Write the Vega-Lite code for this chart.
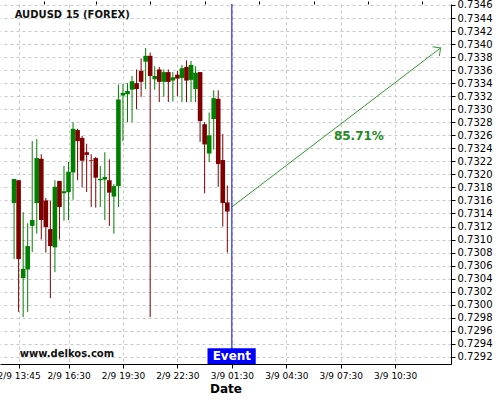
{
  "$schema": "https://vega.github.io/schema/vega-lite/v6.json",
  "width": 451,
  "height": 360,
  "autosize": {"type": "none"},
  "padding": {"left": 0, "top": 4, "right": 49, "bottom": 36},
  "config": {
    "font": "DejaVu Sans",
    "view": {"stroke": null},
    "axis": {"labelFont": "DejaVu Sans", "titleFont": "DejaVu Sans"}
  },
  "resolve": {"axis": {"x": "independent"}},
  "datasets": {
    "candles": [
      {"t":"2020-09-02T13:30:00","o":0.73156,"h":0.73193,"l":0.73070,"c":0.73193},
      {"t":"2020-09-02T13:45:00","o":0.73191,"h":0.73191,"l":0.72989,"c":0.73070},
      {"t":"2020-09-02T14:00:00","o":0.73041,"h":0.73142,"l":0.72981,"c":0.73055},
      {"t":"2020-09-02T14:15:00","o":0.73054,"h":0.73125,"l":0.72989,"c":0.73090},
      {"t":"2020-09-02T14:30:00","o":0.73121,"h":0.73251,"l":0.73081,"c":0.73130},
      {"t":"2020-09-02T14:45:00","o":0.73156,"h":0.73254,"l":0.73109,"c":0.73225},
      {"t":"2020-09-02T15:00:00","o":0.73224,"h":0.73231,"l":0.73100,"c":0.73130},
      {"t":"2020-09-02T15:15:00","o":0.73160,"h":0.73164,"l":0.73080,"c":0.73119},
      {"t":"2020-09-02T15:30:00","o":0.73116,"h":0.73160,"l":0.73010,"c":0.73090},
      {"t":"2020-09-02T15:45:00","o":0.73088,"h":0.73191,"l":0.73050,"c":0.73181},
      {"t":"2020-09-02T16:00:00","o":0.73190,"h":0.73190,"l":0.73100,"c":0.73150},
      {"t":"2020-09-02T16:15:00","o":0.73171,"h":0.73213,"l":0.73129,"c":0.73174},
      {"t":"2020-09-02T16:30:00","o":0.73173,"h":0.73219,"l":0.73130,"c":0.73204},
      {"t":"2020-09-02T16:45:00","o":0.73203,"h":0.73280,"l":0.73161,"c":0.73270},
      {"t":"2020-09-02T17:00:00","o":0.73268,"h":0.73270,"l":0.73191,"c":0.73251},
      {"t":"2020-09-02T17:15:00","o":0.73256,"h":0.73259,"l":0.73180,"c":0.73221},
      {"t":"2020-09-02T17:30:00","o":0.73234,"h":0.73247,"l":0.73173,"c":0.73230},
      {"t":"2020-09-02T17:45:00","o":0.73222,"h":0.73231,"l":0.73150,"c":0.73221},
      {"t":"2020-09-02T18:00:00","o":0.73225,"h":0.73227,"l":0.73149,"c":0.73195},
      {"t":"2020-09-02T18:15:00","o":0.73191,"h":0.73213,"l":0.73150,"c":0.73193},
      {"t":"2020-09-02T18:30:00","o":0.73192,"h":0.73234,"l":0.73130,"c":0.73196},
      {"t":"2020-09-02T18:45:00","o":0.73191,"h":0.73223,"l":0.73121,"c":0.73172},
      {"t":"2020-09-02T19:00:00","o":0.73166,"h":0.73185,"l":0.73109,"c":0.73182},
      {"t":"2020-09-02T19:15:00","o":0.73182,"h":0.73338,"l":0.73150,"c":0.73315},
      {"t":"2020-09-02T19:30:00","o":0.73321,"h":0.73339,"l":0.73251,"c":0.73325},
      {"t":"2020-09-02T19:45:00","o":0.73323,"h":0.73340,"l":0.73280,"c":0.73328},
      {"t":"2020-09-02T20:00:00","o":0.73330,"h":0.73351,"l":0.73280,"c":0.73343},
      {"t":"2020-09-02T20:15:00","o":0.73340,"h":0.73361,"l":0.73300,"c":0.73331},
      {"t":"2020-09-02T20:30:00","o":0.73359,"h":0.73378,"l":0.73319,"c":0.73342},
      {"t":"2020-09-02T20:45:00","o":0.73373,"h":0.73394,"l":0.73331,"c":0.73382},
      {"t":"2020-09-02T21:00:00","o":0.73382,"h":0.73387,"l":0.72981,"c":0.73351},
      {"t":"2020-09-02T21:15:00","o":0.73346,"h":0.73366,"l":0.73330,"c":0.73351},
      {"t":"2020-09-02T21:30:00","o":0.73361,"h":0.73365,"l":0.73311,"c":0.73342},
      {"t":"2020-09-02T21:45:00","o":0.73342,"h":0.73361,"l":0.73319,"c":0.73357},
      {"t":"2020-09-02T22:00:00","o":0.73357,"h":0.73361,"l":0.73311,"c":0.73342},
      {"t":"2020-09-02T22:15:00","o":0.73344,"h":0.73357,"l":0.73312,"c":0.73349},
      {"t":"2020-09-02T22:30:00","o":0.73353,"h":0.73359,"l":0.73320,"c":0.73347},
      {"t":"2020-09-02T22:45:00","o":0.73348,"h":0.73368,"l":0.73311,"c":0.73363},
      {"t":"2020-09-02T23:00:00","o":0.73365,"h":0.73375,"l":0.73311,"c":0.73344},
      {"t":"2020-09-02T23:15:00","o":0.73345,"h":0.73374,"l":0.73311,"c":0.73368},
      {"t":"2020-09-02T23:30:00","o":0.73331,"h":0.73366,"l":0.73311,"c":0.73356},
      {"t":"2020-09-02T23:45:00","o":0.73357,"h":0.73357,"l":0.73250,"c":0.73282},
      {"t":"2020-09-03T00:00:00","o":0.73277,"h":0.73280,"l":0.73171,"c":0.73246},
      {"t":"2020-09-03T00:15:00","o":0.73232,"h":0.73295,"l":0.73219,"c":0.73260},
      {"t":"2020-09-03T00:30:00","o":0.73285,"h":0.73329,"l":0.73238,"c":0.73317},
      {"t":"2020-09-03T00:45:00","o":0.73316,"h":0.73329,"l":0.73181,"c":0.73216},
      {"t":"2020-09-03T01:00:00","o":0.73222,"h":0.73262,"l":0.73120,"c":0.73156},
      {"t":"2020-09-03T01:15:00","o":0.73157,"h":0.73183,"l":0.73080,"c":0.73143}
    ]
  },
  "layer": [
    {
      "data": {"name": "candles"},
      "mark": {"type": "rule", "strokeWidth": 1},
      "encoding": {
        "x": {
          "field": "t", "type": "temporal", "title": "Date",
          "scale": {"domain": [
            {"year": 2020, "month": 9, "date": 2, "hours": 13, "minutes": 0},
            {"year": 2020, "month": 9, "date": 3, "hours": 13, "minutes": 18}
          ]},
          "axis": {
            "values": [
              {"year": 2020, "month": 9, "date": 2, "hours": 13, "minutes": 45},
              {"year": 2020, "month": 9, "date": 2, "hours": 16, "minutes": 30},
              {"year": 2020, "month": 9, "date": 2, "hours": 19, "minutes": 30},
              {"year": 2020, "month": 9, "date": 2, "hours": 22, "minutes": 30},
              {"year": 2020, "month": 9, "date": 3, "hours": 1, "minutes": 30},
              {"year": 2020, "month": 9, "date": 3, "hours": 4, "minutes": 30},
              {"year": 2020, "month": 9, "date": 3, "hours": 7, "minutes": 30},
              {"year": 2020, "month": 9, "date": 3, "hours": 10, "minutes": 30}
            ],
            "tickCount": 20,
            "format": "%-d/%-m %H:%M",
            "labelFontSize": 9, "labelColor": "#000", "labelPadding": 3,
            "labelFlush": false, "labelOverlap": false, "labelBound": false,
            "tickSize": 4, "tickColor": "#000", "domainColor": "#000",
            "grid": true, "gridColor": "#c8c8c8", "gridDash": [3, 3],
            "titleFontSize": 12, "titleFontWeight": "bold", "titleColor": "#000", "titlePadding": 3
          }
        },
        "y": {
          "field": "l", "type": "quantitative", "title": null,
          "scale": {"domain": [0.72909, 0.734615], "zero": false, "nice": false},
          "axis": {
            "orient": "right",
            "values": [0.7292,0.7294,0.7296,0.7298,0.73,0.7302,0.7304,0.7306,0.7308,0.731,0.7312,0.7314,0.7316,0.7318,0.732,0.7322,0.7324,0.7326,0.7328,0.733,0.7332,0.7334,0.7336,0.7338,0.734,0.7342,0.7344,0.7346],
            "tickCount": 40,
            "format": ".4f",
            "labelFontSize": 10, "labelColor": "#000", "labelPadding": 2,
            "labelFlush": false, "labelOverlap": false, "labelBound": false,
            "tickSize": 4, "tickColor": "#000", "domainColor": "#000",
            "grid": true, "gridColor": "#c8c8c8", "gridDash": [3, 3]
          }
        },
        "y2": {"field": "h"},
        "color": {"condition": {"test": "datum.c >= datum.o", "value": "#008000"}, "value": "#800000"}
      }
    },
    {
      "data": {"name": "candles"},
      "mark": {"type": "bar", "size": 4.6},
      "encoding": {
        "x": {"field": "t", "type": "temporal", "axis": null},
        "y": {"field": "o", "type": "quantitative", "title": null},
        "y2": {"field": "c"},
        "color": {"condition": {"test": "datum.c >= datum.o", "value": "#008000"}, "value": "#800000"}
      }
    },
    {
      "data": {"values": [
        {"t": "2020-09-03T01:30:00", "p": 0.7315},
        {"t": "2020-09-03T13:00:00", "p": 0.73394}
      ]},
      "mark": {"type": "line", "color": "#2e9a2e", "strokeWidth": 1},
      "encoding": {
        "x": {"field": "t", "type": "temporal", "axis": null},
        "y": {"field": "p", "type": "quantitative", "title": null}
      }
    },
    {
      "data": {"values": [{"t": "2020-09-03T13:00:00", "p": 0.73394}]},
      "mark": {"type": "point", "shape": "M-1,1L0,0L1,1", "filled": false, "stroke": "#2e9a2e", "strokeWidth": 1, "size": 130, "angle": 53.3, "opacity": 1},
      "encoding": {
        "x": {"field": "t", "type": "temporal", "axis": null},
        "y": {"field": "p", "type": "quantitative", "title": null}
      }
    },
    {
      "data": {"values": [{"t": "2020-09-03T08:30:00", "p": 0.73259, "txt": "85.71%"}]},
      "mark": {"type": "text", "align": "center", "baseline": "middle", "fontSize": 12, "fontWeight": "bold", "color": "#228b22"},
      "encoding": {
        "x": {"field": "t", "type": "temporal", "axis": null},
        "y": {"field": "p", "type": "quantitative", "title": null},
        "text": {"field": "txt"}
      }
    },
    {
      "data": {"values": [{"t": "2020-09-03T00:09:30", "t2": "2020-09-03T02:49:00", "p": 0.72933, "p2": 0.72909}]},
      "mark": {"type": "rect", "color": "#0000ff"},
      "encoding": {
        "x": {"field": "t", "type": "temporal", "axis": null},
        "x2": {"field": "t2"},
        "y": {"field": "p", "type": "quantitative", "title": null},
        "y2": {"field": "p2"}
      }
    },
    {
      "data": {"values": [{"t": "2020-09-03T01:30:00"}]},
      "mark": {"type": "rule", "color": "#0000ff", "strokeWidth": 1},
      "encoding": {
        "x": {
          "field": "t", "type": "temporal", "title": null,
          "axis": {
            "values": [
              {"year": 2020, "month": 9, "date": 2, "hours": 15, "minutes": 7, "seconds": 30},
              {"year": 2020, "month": 9, "date": 2, "hours": 18, "minutes": 0},
              {"year": 2020, "month": 9, "date": 2, "hours": 21, "minutes": 0},
              {"year": 2020, "month": 9, "date": 3, "hours": 0, "minutes": 0},
              {"year": 2020, "month": 9, "date": 3, "hours": 3, "minutes": 0},
              {"year": 2020, "month": 9, "date": 3, "hours": 6, "minutes": 0},
              {"year": 2020, "month": 9, "date": 3, "hours": 9, "minutes": 0},
              {"year": 2020, "month": 9, "date": 3, "hours": 12, "minutes": 0}
            ],
            "tickCount": 20,
            "labels": false, "grid": false, "domain": false,
            "tickSize": 3, "tickColor": "#000"
          }
        }
      }
    },
    {
      "data": {"values": [{"t": "2020-09-03T01:30:00", "p": 0.72921, "txt": "Event"}]},
      "mark": {"type": "text", "align": "center", "baseline": "middle", "fontSize": 12, "fontWeight": "bold", "color": "#ffffff"},
      "encoding": {
        "x": {"field": "t", "type": "temporal", "axis": null},
        "y": {"field": "p", "type": "quantitative", "title": null},
        "text": {"field": "txt"}
      }
    },
    {
      "data": {"values": [
        {"t": "2020-09-02T13:32:00", "p": 0.73444, "txt": "AUDUSD 15 (FOREX)"},
        {"t": "2020-09-02T13:48:30", "p": 0.72925, "txt": "www.delkos.com"}
      ]},
      "mark": {"type": "text", "align": "left", "baseline": "middle", "fontSize": 10, "fontWeight": "bold", "color": "#111111"},
      "encoding": {
        "x": {"field": "t", "type": "temporal", "axis": null},
        "y": {"field": "p", "type": "quantitative", "title": null},
        "text": {"field": "txt"}
      }
    }
  ]
}
